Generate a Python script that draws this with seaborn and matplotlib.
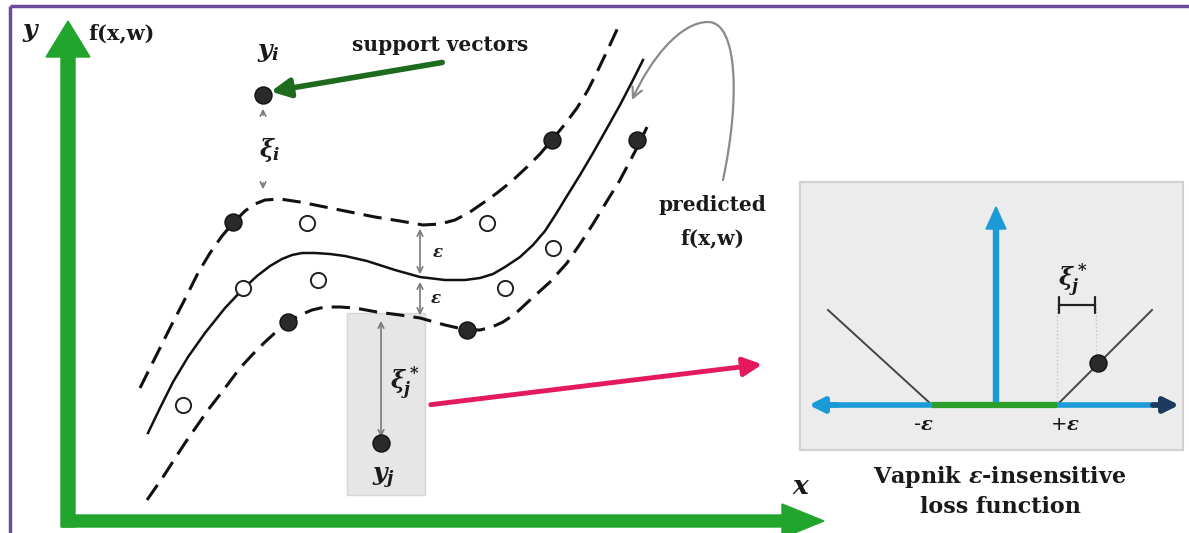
import numpy as np
import pandas as pd
import matplotlib
matplotlib.use("Agg")
import matplotlib.pyplot as plt
import seaborn as sns
from matplotlib.patches import Rectangle, FancyArrowPatch
from matplotlib.path import Path

# Coordonnées (en pixels, origine en haut à gauche)
solid_x = [148, 160, 173, 188, 205, 225, 243, 257, 270, 282, 292, 302, 315, 330, 345,
           367, 395, 420, 445, 465, 480, 493, 505, 520, 533, 545, 556, 567, 580, 593,
           606, 620, 633, 643]
solid_y = [433, 408, 382, 357, 333, 308, 289, 276, 266, 259, 255, 253, 253, 254, 256,
           261, 270, 277, 280, 280, 278, 274, 267, 257, 245, 231, 214, 196, 175, 153,
           130, 105, 80, 60]

upper_x = [140, 155, 170, 185, 198, 210, 222, 234, 245, 255, 265, 280, 300, 325, 350,
           375, 400, 423, 440, 455, 470, 483, 497, 512, 527, 540, 552, 565, 577, 588,
           598, 609, 620]
upper_y = [388, 358, 328, 299, 273, 253, 236, 222, 211, 204, 200, 199, 202, 207, 212,
           217, 221, 225, 224, 220, 212, 203, 193, 181, 167, 154, 140, 124, 108, 90,
           70, 47, 23]

lower_x = [147, 163, 185, 208, 225, 240, 253, 265, 277, 288, 300, 312, 325, 340, 355,
           377, 400, 420, 445, 467, 480, 492, 503, 515, 530, 550, 567, 580, 593, 607,
           620, 630, 640, 647]
lower_y = [500, 477, 443, 410, 388, 368, 354, 342, 331, 322, 315, 310, 307, 307, 308,
           312, 315, 318, 325, 330, 330, 327, 322, 314, 300, 282, 263, 244, 224, 201,
           180, 161, 142, 127]

open_x = [183, 243, 307, 318, 487, 505, 553]
open_y = [405, 288, 223, 280, 223, 288, 248]

sv_x = [263, 233, 288, 467, 552, 637, 381]
sv_y = [95, 222, 322, 330, 140, 140, 443]

# fonction de perte de Vapnik (encart)
loss_x = [828, 932, 1057, 1152]
loss_y = [310, 405, 405, 310]
loss_pt_x = [1098]
loss_pt_y = [363]

W, H = 1189, 533
fig = plt.figure(figsize=(W / 100, H / 100), dpi=100)
ax = fig.add_axes([0, 0, 1, 1])
ax.set_xlim(0, W)
ax.set_ylim(H, 0)
ax.axis("off")

plt.rcParams["mathtext.fontset"] = "custom"
plt.rcParams["mathtext.it"] = "DejaVu Serif:italic:bold"
plt.rcParams["mathtext.rm"] = "DejaVu Serif:bold"
plt.rcParams["mathtext.bf"] = "DejaVu Serif:bold"

serif = dict(family="DejaVu Serif", weight="bold", color="#1a1a1a")

# bordure violette
ax.plot([10, W], [6, 6], color="#6a4c9c", lw=2.5, solid_capstyle="butt")
ax.plot([10, 10], [6, H], color="#6a4c9c", lw=2.5, solid_capstyle="butt")

# rectangle gris autour de y_j
ax.add_patch(Rectangle((347, 313), 78, 182, facecolor="#e6e6e6", edgecolor="#d6d6d6", lw=1, zorder=1))

# courbes
sns.lineplot(x=solid_x, y=solid_y, sort=False, ax=ax, color="#111111", lw=1.8, zorder=3)
sns.lineplot(x=upper_x, y=upper_y, sort=False, ax=ax, color="#111111", lw=2.2,
             linestyle=(0, (6, 3)), zorder=3)
sns.lineplot(x=lower_x, y=lower_y, sort=False, ax=ax, color="#111111", lw=2.2,
             linestyle=(0, (6, 3)), zorder=3)

# points
sns.scatterplot(x=open_x, y=open_y, ax=ax, s=120, facecolor="white", edgecolor="#222222",
                linewidth=1.4, zorder=4)
sns.scatterplot(x=sv_x, y=sv_y, ax=ax, s=150, color="#2a2a2a", edgecolor="#111111",
                linewidth=1, zorder=4)

# axes verts
ax.arrow(68, 527, 0, -470, width=14, head_width=44, head_length=36,
         length_includes_head=False, color="#22a52c", zorder=2)
ax.arrow(62, 521, 720, 0, width=12, head_width=34, head_length=42,
         length_includes_head=False, color="#22a52c", zorder=2)

# flèches epsilon / xi
grey = "#7a7a7a"
for y0, y1 in [(226, 277), (279, 318)]:
    ax.annotate("", xy=(420, y0), xytext=(420, y1),
                arrowprops=dict(arrowstyle="<->", color=grey, lw=1.2, mutation_scale=10))
ax.annotate("", xy=(381, 318), xytext=(381, 440),
            arrowprops=dict(arrowstyle="<->", color=grey, lw=1.2, mutation_scale=10))
ax.annotate("", xy=(263, 106), xytext=(263, 118),
            arrowprops=dict(arrowstyle="->", color=grey, lw=1.2, mutation_scale=10))
ax.annotate("", xy=(263, 192), xytext=(263, 180),
            arrowprops=dict(arrowstyle="->", color=grey, lw=1.2, mutation_scale=10))

# flèche "support vectors"
ax.annotate("", xy=(268, 92), xytext=(445, 62),
            arrowprops=dict(arrowstyle="-|>", color="#1e6b1e", lw=4, mutation_scale=28))

# flèche courbe "predicted"
verts = [(723, 180), (740, 100), (738, 22), (708, 22), (680, 22), (650, 60), (632, 100)]
codes = [Path.MOVETO] + [Path.CURVE4] * 6
ax.add_patch(FancyArrowPatch(path=Path(verts, codes), arrowstyle="->", color="#8a8a8a",
                             lw=1.6, mutation_scale=18))

# flèche rose
ax.annotate("", xy=(765, 364), xytext=(428, 405),
            arrowprops=dict(arrowstyle="-|>", color="#e5195f", lw=3.5, mutation_scale=28))

# textes du graphique principal
ax.text(30, 30, "y", fontsize=18, style="italic", ha="center", va="center", **serif)
ax.text(88, 33, "f(x,w)", fontsize=15, ha="left", va="center", **serif)
ax.text(268, 52, r"$y_i$", fontsize=18, ha="center", va="center", color="#1a1a1a")
ax.text(440, 45, "support vectors", fontsize=14.5, ha="center", va="center", **serif)
ax.text(270, 150, r"$\xi_i$", fontsize=17, ha="center", va="center", color="#1a1a1a")
ax.text(438, 252, r"$\varepsilon$", fontsize=12, ha="center", va="center", color="#1a1a1a")
ax.text(436, 298, r"$\varepsilon$", fontsize=12, ha="center", va="center", color="#1a1a1a")
ax.text(405, 383, r"$\xi_j^*$", fontsize=17, ha="center", va="center", color="#1a1a1a")
ax.text(384, 478, r"$y_j$", fontsize=18, ha="center", va="center", color="#1a1a1a")
ax.text(712, 205, "predicted", fontsize=14.5, ha="center", va="center", **serif)
ax.text(712, 238, "f(x,w)", fontsize=14.5, ha="center", va="center", **serif)
ax.text(800, 487, "x", fontsize=19, style="italic", ha="center", va="center", **serif)

# encart : fonction de perte
ax.add_patch(Rectangle((800, 182), 383, 268, facecolor="#ececec", edgecolor="#d0d0d0", lw=1.5, zorder=1))
blue = "#1a9ad6"
ax.plot([1057, 1057], [308, 405], color="#c4c4c4", lw=1, linestyle=":", zorder=2)
ax.plot([1096, 1096], [308, 362], color="#c4c4c4", lw=1, linestyle=":", zorder=2)
sns.lineplot(x=loss_x, y=loss_y, sort=False, ax=ax, color="#444444", lw=1.4, zorder=3)
ax.arrow(996, 405, 0, -176, width=5, head_width=20, head_length=22,
         length_includes_head=False, color=blue, zorder=3)
ax.plot([825, 1160], [405, 405], color=blue, lw=4, solid_capstyle="butt", zorder=3)
ax.annotate("", xy=(806, 405), xytext=(840, 405),
            arrowprops=dict(arrowstyle="-|>", color=blue, lw=4, mutation_scale=22), zorder=3)
ax.annotate("", xy=(1182, 405), xytext=(1150, 405),
            arrowprops=dict(arrowstyle="-|>", color="#1b3a5e", lw=4, mutation_scale=22), zorder=3)
ax.plot([932, 1057], [405, 405], color="#2ca02c", lw=4.5, solid_capstyle="butt", zorder=4)
sns.scatterplot(x=loss_pt_x, y=loss_pt_y, ax=ax, s=150, color="#2a2a2a", edgecolor="#111111",
                linewidth=1, zorder=5)
ax.annotate("", xy=(1056, 305), xytext=(1098, 305),
            arrowprops=dict(arrowstyle="|-|", color="#222222", lw=1.6, mutation_scale=6))
ax.text(1073, 280, r"$\xi_j^*$", fontsize=17, ha="center", va="center", color="#1a1a1a")
ax.text(923, 424, r"-$\varepsilon$", fontsize=14, ha="center", va="center", color="#1a1a1a")
ax.text(1065, 424, r"+$\varepsilon$", fontsize=14, ha="center", va="center", color="#1a1a1a")
ax.text(1000, 477, r"Vapnik $\varepsilon$-insensitive", fontsize=16, ha="center", va="center", **serif)
ax.text(1000, 507, "loss function", fontsize=16, ha="center", va="center", **serif)

fig.savefig("out.png", dpi=100)
